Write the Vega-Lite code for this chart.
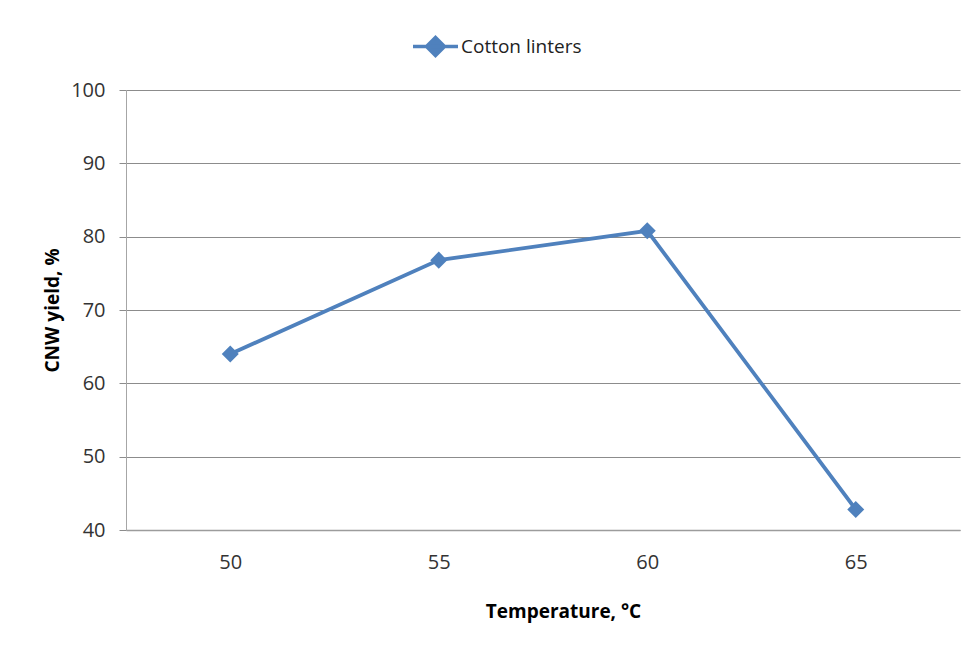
{
  "$schema": "https://vega.github.io/schema/vega-lite/v6.json",
  "width": 834,
  "height": 440,
  "autosize": {"type": "none"},
  "padding": {"left": 126, "top": 90, "right": 12, "bottom": 127},
  "background": "white",
  "config": {
    "font": "Open Sans",
    "view": {"stroke": null},
    "axis": {"labelFont": "Open Sans", "titleFont": "Open Sans", "labelColor": "#333333", "titleColor": "#000000"}
  },
  "data": {
    "values": [
      {"temperature": "50", "yield": 64.0, "series": "Cotton linters"},
      {"temperature": "55", "yield": 76.8, "series": "Cotton linters"},
      {"temperature": "60", "yield": 80.8, "series": "Cotton linters"},
      {"temperature": "65", "yield": 42.8, "series": "Cotton linters"}
    ]
  },
  "encoding": {
    "x": {
      "field": "temperature",
      "type": "ordinal",
      "scale": {"type": "point", "padding": 0.5},
      "axis": {
        "title": "Temperature, °C",
        "titleFontSize": 19,
        "titleFontWeight": "bold",
        "titleX": 437,
        "titlePadding": 30,
        "labelAngle": 0,
        "labelFontSize": 20,
        "labelPadding": 22,
        "ticks": false,
        "tickSize": 0,
        "domainColor": "#9c9c9c",
        "domainWidth": 1.5,
        "grid": false
      }
    },
    "y": {
      "field": "yield",
      "type": "quantitative",
      "scale": {"domain": [40, 100], "nice": false, "zero": false},
      "axis": {
        "title": "CNW yield, %",
        "titleFontSize": 19,
        "titleFontWeight": "bold",
        "titlePadding": 8,
        "values": [40, 50, 60, 70, 80, 90, 100],
        "labelFontSize": 20,
        "labelPadding": 14,
        "tickSize": 7,
        "tickColor": "#8c8c8c",
        "domainColor": "#a6a6a6",
        "grid": true,
        "gridColor": "#8c8c8c",
        "gridWidth": 1
      }
    },
    "color": {
      "field": "series",
      "type": "nominal",
      "scale": {"range": ["#4F81BD"]},
      "legend": {
        "title": null,
        "orient": "none",
        "legendX": 285,
        "legendY": -68,
        "padding": 0,
        "labelFont": "Open Sans",
        "labelFontSize": 19,
        "labelColor": "#222222",
        "labelOffset": 1,
        "symbolType": "M-1,0L1,0M0,-0.4L0.4,0L0,0.4L-0.4,0Z",
        "symbolSize": 2025,
        "symbolStrokeWidth": 3.5,
        "encode": {
          "symbols": {"update": {"fill": {"value": "#4F81BD"}, "stroke": {"value": "#4F81BD"}, "strokeWidth": {"value": 3.5}}}
        }
      }
    }
  },
  "layer": [
    {"mark": {"type": "line", "strokeWidth": 3.8}},
    {"mark": {"type": "point", "shape": "diamond", "filled": true, "size": 290, "opacity": 1}}
  ]
}
